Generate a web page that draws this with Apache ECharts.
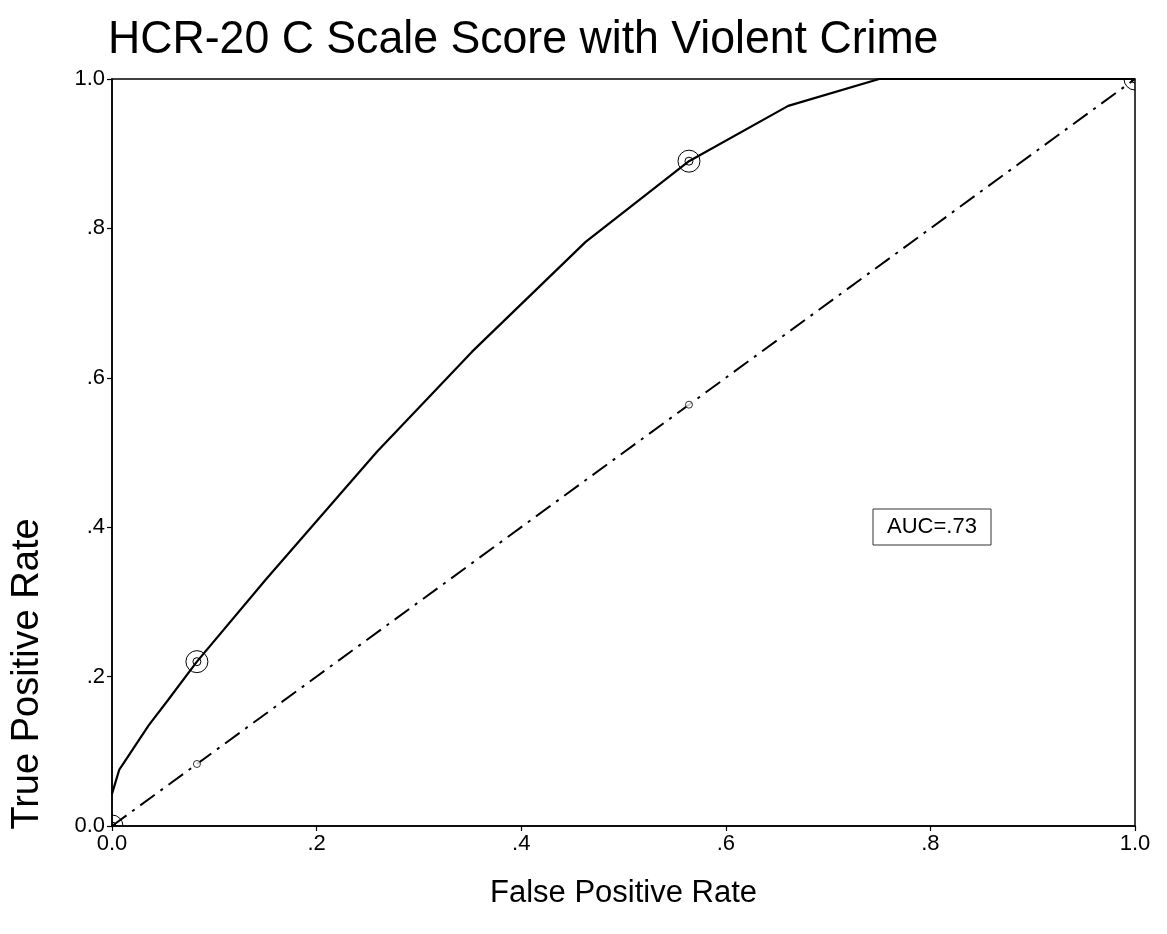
<!DOCTYPE html>
<html>
<head>
<meta charset="utf-8">
<script src="https://cdn.jsdelivr.net/npm/echarts@6/dist/echarts.min.js"></script>
<style>html,body{margin:0;padding:0;background:#fff;}#chart{width:1167px;height:934px;}</style>
</head>
<body>
<div id="chart"></div>
<script>
// ROC curve (fitted line) points: [false positive rate, true positive rate]
var rocCurveFPR = [0.000, 0.007, 0.036, 0.055, 0.083, 0.151, 0.259, 0.352, 0.463, 0.564, 0.661, 0.750, 1.000];
var rocCurveTPR = [0.043, 0.075, 0.135, 0.169, 0.220, 0.331, 0.501, 0.635, 0.782, 0.890, 0.964, 1.000, 1.000];
// Observed cut-off points on the ROC curve
var rocPointFPR = [0.000, 0.083, 0.564, 1.000];
var rocPointTPR = [0.000, 0.220, 0.890, 1.000];
// Reference (chance) diagonal and its markers
var diagX = [0, 1];
var diagY = [0, 1];
var diagPointX = [0.083, 0.564];
var diagPointY = [0.083, 0.564];
// Tick labels
var tickValues = [0, 0.2, 0.4, 0.6, 0.8, 1.0];
var tickLabels = ['0.0', '.2', '.4', '.6', '.8', '1.0'];
var titleText = 'HCR-20 C Scale Score with Violent Crime';
var xTitle = 'False Positive Rate';
var yTitle = 'True Positive Rate';
var aucText = 'AUC=.73';

function zip(a, b) { return a.map(function (v, i) { return [v, b[i]]; }); }
function fmt(v) {
  for (var i = 0; i < tickValues.length; i++) {
    if (Math.abs(tickValues[i] - v) < 1e-9) return tickLabels[i];
  }
  return '';
}

var FONT = '"Liberation Sans", Arial, sans-serif';
var chart = echarts.init(document.getElementById('chart'), null, {renderer: 'canvas'});
var axisCommon = {
  type: 'value', min: 0, max: 1, interval: 0.2,
  axisLine: {show: true, lineStyle: {color: '#000', width: 1.5}},
  axisTick: {show: true, length: 5, lineStyle: {color: '#000', width: 1.2}},
  splitLine: {show: false},
  axisLabel: {color: '#000', fontSize: 22, fontFamily: FONT, margin: 7, formatter: fmt}
};
chart.setOption({
  animation: false,
  backgroundColor: '#fff',
  grid: {left: 112, right: 32, top: 79, bottom: 108, show: true, borderColor: '#000', borderWidth: 1.5},
  xAxis: Object.assign({}, axisCommon, {
    name: xTitle, nameLocation: 'middle', nameGap: 52,
    nameTextStyle: {fontFamily: FONT, fontSize: 31, color: '#000'}
  }),
  yAxis: Object.assign({}, axisCommon),
  graphic: [
    {
      type: 'text', x: 108, y: 40, scaleX: 0.95,
      style: {text: titleText, fontFamily: FONT, fontSize: 47, fill: '#000', align: 'left', verticalAlign: 'middle'}
    },
    {
      type: 'text', x: 28, y: 674, rotation: Math.PI / 2,
      style: {text: yTitle, fontFamily: FONT, fontSize: 38, fill: '#000', align: 'center', verticalAlign: 'middle'}
    },
    {
      type: 'group', x: 932, y: 527,
      children: [
        {type: 'rect', shape: {x: -59, y: -18, width: 118, height: 36}, style: {fill: '#fff', stroke: '#333', lineWidth: 1}},
        {type: 'text', style: {text: aucText, fontFamily: FONT, fontSize: 22, fill: '#000', align: 'center', verticalAlign: 'middle'}}
      ]
    }
  ],
  series: [
    {
      type: 'line', data: zip(diagX, diagY), symbol: 'none',
      lineStyle: {color: '#000', width: 2, type: [18, 7, 3, 7]}, z: 2
    },
    {
      type: 'scatter', data: zip(diagPointX, diagPointY), symbol: 'circle', symbolSize: 7,
      itemStyle: {color: '#fff', borderColor: '#000', borderWidth: 1}, z: 3
    },
    {
      type: 'line', data: zip(rocCurveFPR, rocCurveTPR), symbol: 'none',
      lineStyle: {color: '#000', width: 2.2}, z: 4
    },
    {
      type: 'custom', clip: true, z: 5,
      data: zip(rocPointFPR, rocPointTPR),
      renderItem: function (params, api) {
        var p = api.coord([api.value(0), api.value(1)]);
        return {
          type: 'group',
          children: [
            {type: 'circle', shape: {cx: p[0], cy: p[1], r: 11}, style: {fill: 'none', stroke: '#000', lineWidth: 1}},
            {type: 'circle', shape: {cx: p[0], cy: p[1], r: 4}, style: {fill: 'none', stroke: '#000', lineWidth: 1}}
          ]
        };
      }
    }
  ]
});
</script>
</body>
</html>
